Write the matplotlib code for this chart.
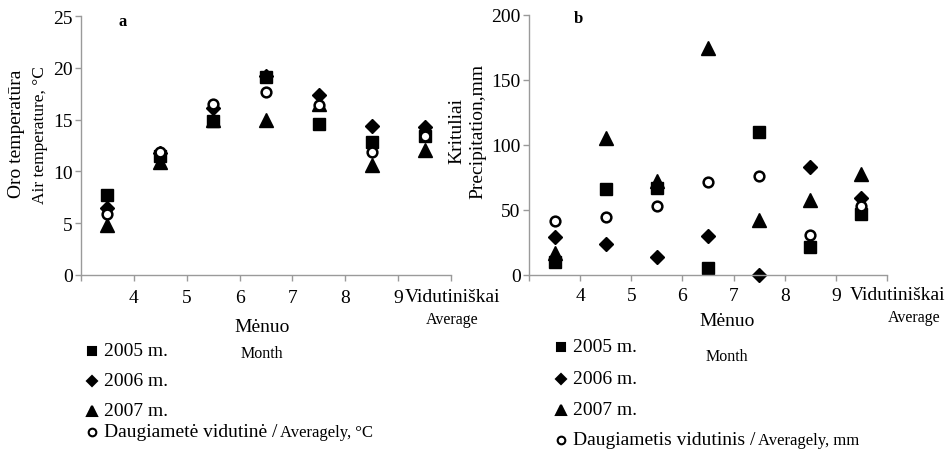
import matplotlib
matplotlib.use("Agg")
import matplotlib.pyplot as plt
import numpy as np

plt.rcParams['font.family'] = ['Liberation Serif', 'DejaVu Serif']

months = ["4", "5", "6", "7", "8", "9", "Vidutiniškai"]
temp_2005 = [7.7, 11.5, 14.9, 19.1, 14.6, 12.8, 13.4]
temp_2006 = [6.5, 11.8, 16.1, 19.2, 17.4, 14.4, 14.3]
temp_2007 = [4.8, 10.9, 15.0, 15.0, 16.5, 10.6, 12.1]
temp_avg = [5.9, 11.9, 16.5, 17.7, 16.4, 11.9, 13.4]

prec_2005 = [9.5, 65.9, 66.7, 4.9, 109.5, 21.0, 46.7]
prec_2006 = [28.7, 23.3, 13.8, 30.0, 0.0, 83.0, 58.7]
prec_2007 = [16.4, 104.9, 72.3, 174.4, 42.3, 57.4, 77.4]
prec_avg = [41.5, 44.1, 52.6, 71.3, 75.6, 30.8, 52.6]

W, H = 950, 452
fig = plt.figure(figsize=(9.5, 4.52), dpi=100)

def px(x, y):
    return x / W, 1 - y / H

def make_axes(left, right, top, bottom):
    return fig.add_axes([left / W, 1 - bottom / H, (right - left) / W, (bottom - top) / H])

axL = make_axes(81, 451, 17, 276)
axR = make_axes(529, 887, 15.7, 275.7)

xpos = np.arange(len(months)) + 0.5
gray = '#9a9a9a'

def style(ax, ymax, ystep):
    ax.set_xlim(0, len(months))
    ax.set_ylim(0, ymax)
    for s in ['top', 'right']:
        ax.spines[s].set_visible(False)
    for s in ['left', 'bottom']:
        ax.spines[s].set_color(gray)
        ax.spines[s].set_linewidth(1.0)
    ax.set_xticks(np.arange(0, len(months) + 1))
    ax.set_xticklabels([])
    ax.set_yticks(np.arange(0, ymax + 1, ystep))
    ax.tick_params(axis='both', direction='out', length=4, color=gray, width=1.0)
    ax.tick_params(axis='y', labelsize=14, pad=2)

def draw(ax, s05, s06, s07, avg):
    ax.plot(xpos, s05, ls='none', marker='s', ms=8, color='black', clip_on=False)
    ax.plot(xpos, s06, ls='none', marker='D', ms=7, color='black', clip_on=False)
    ax.plot(xpos, s07, ls='none', marker='^', ms=10, color='black', clip_on=False)
    ax.plot(xpos, avg, ls='none', marker='o', ms=7, mfc='white', mec='black', mew=1.8, clip_on=False)

style(axL, 25, 5)
style(axR, 200, 50)
draw(axL, temp_2005, temp_2006, temp_2007, temp_avg)
draw(axR, prec_2005, prec_2006, prec_2007, prec_avg)

# month tick labels at boundaries
for ax, off in [(axL, -16.3), (axR, -15)]:
    for i, m in enumerate(months[:-1]):
        ax.annotate(m, xy=(i + 1, 0), xycoords=('data', 'axes fraction'),
                    xytext=(0, off), textcoords='offset points',
                    ha='center', va='center', fontsize=14)

fig.text(*px(453, 298), "Vidutiniškai", ha='center', va='center', fontsize=14)
fig.text(*px(452, 320), "Average", ha='center', va='center', fontsize=11.5)
fig.text(*px(898, 296), "Vidutiniškai", ha='center', va='center', fontsize=14)
fig.text(*px(914, 318), "Average", ha='center', va='center', fontsize=11.5)

fig.text(*px(262, 328), "Mėnuo", ha='center', va='center', fontsize=14)
fig.text(*px(262, 354), "Month", ha='center', va='center', fontsize=11.5)
fig.text(*px(727, 322), "Mėnuo", ha='center', va='center', fontsize=14)
fig.text(*px(727, 357), "Month", ha='center', va='center', fontsize=11.5)

fig.text(*px(123, 22), "a", ha='center', va='center', fontsize=12, fontweight='bold')
fig.text(*px(578, 19), "b", ha='center', va='center', fontsize=12, fontweight='bold')

fig.text(*px(17, 134), "Oro temperatūra", ha='center', va='center', fontsize=14, rotation=90)
fig.text(*px(40, 135), "Air temperature, °C", ha='center', va='center', fontsize=12.5, rotation=90)
fig.text(*px(457, 131), "Krituliai", ha='center', va='center', fontsize=14, rotation=90)
fig.text(*px(478, 131), "Precipitation,mm", ha='center', va='center', fontsize=14, rotation=90)

# legends
def legend(x0, ys, last_a, last_b):
    mk = [('s', 6, 'black', 'black'), ('D', 5.5, 'black', 'black'),
          ('^', 7, 'black', 'black'), ('o', 5.5, 'white', 'black')]
    labels = ["2005 m.", "2006 m.", "2007 m."]
    for i, (m, ms, fc, ec) in enumerate(mk):
        fx, fy = px(x0, ys[i])
        fig.lines.append(plt.Line2D([fx], [fy], transform=fig.transFigure, marker=m, ms=ms,
                                    mfc=fc, mec=ec, mew=1.5, ls='none'))
        tx, ty = px(x0 + 12, ys[i])
        if i < 3:
            fig.text(tx, ty, labels[i], ha='left', va='center', fontsize=14)
        else:
            t = fig.text(tx, ty, last_a, ha='left', va='center', fontsize=14)
            fig.canvas.draw()
            bb = t.get_window_extent()
            fig.text(bb.x1 / W + 3 / W, ty, last_b, ha='left', va='center', fontsize=12)

legend(92, [352, 382, 412, 433], "Daugiametė vidutinė /", "Averagely, °C")
legend(561, [348, 380, 411, 441], "Daugiametis vidutinis /", "Averagely, mm")

fig.savefig("out.png", dpi=100)
